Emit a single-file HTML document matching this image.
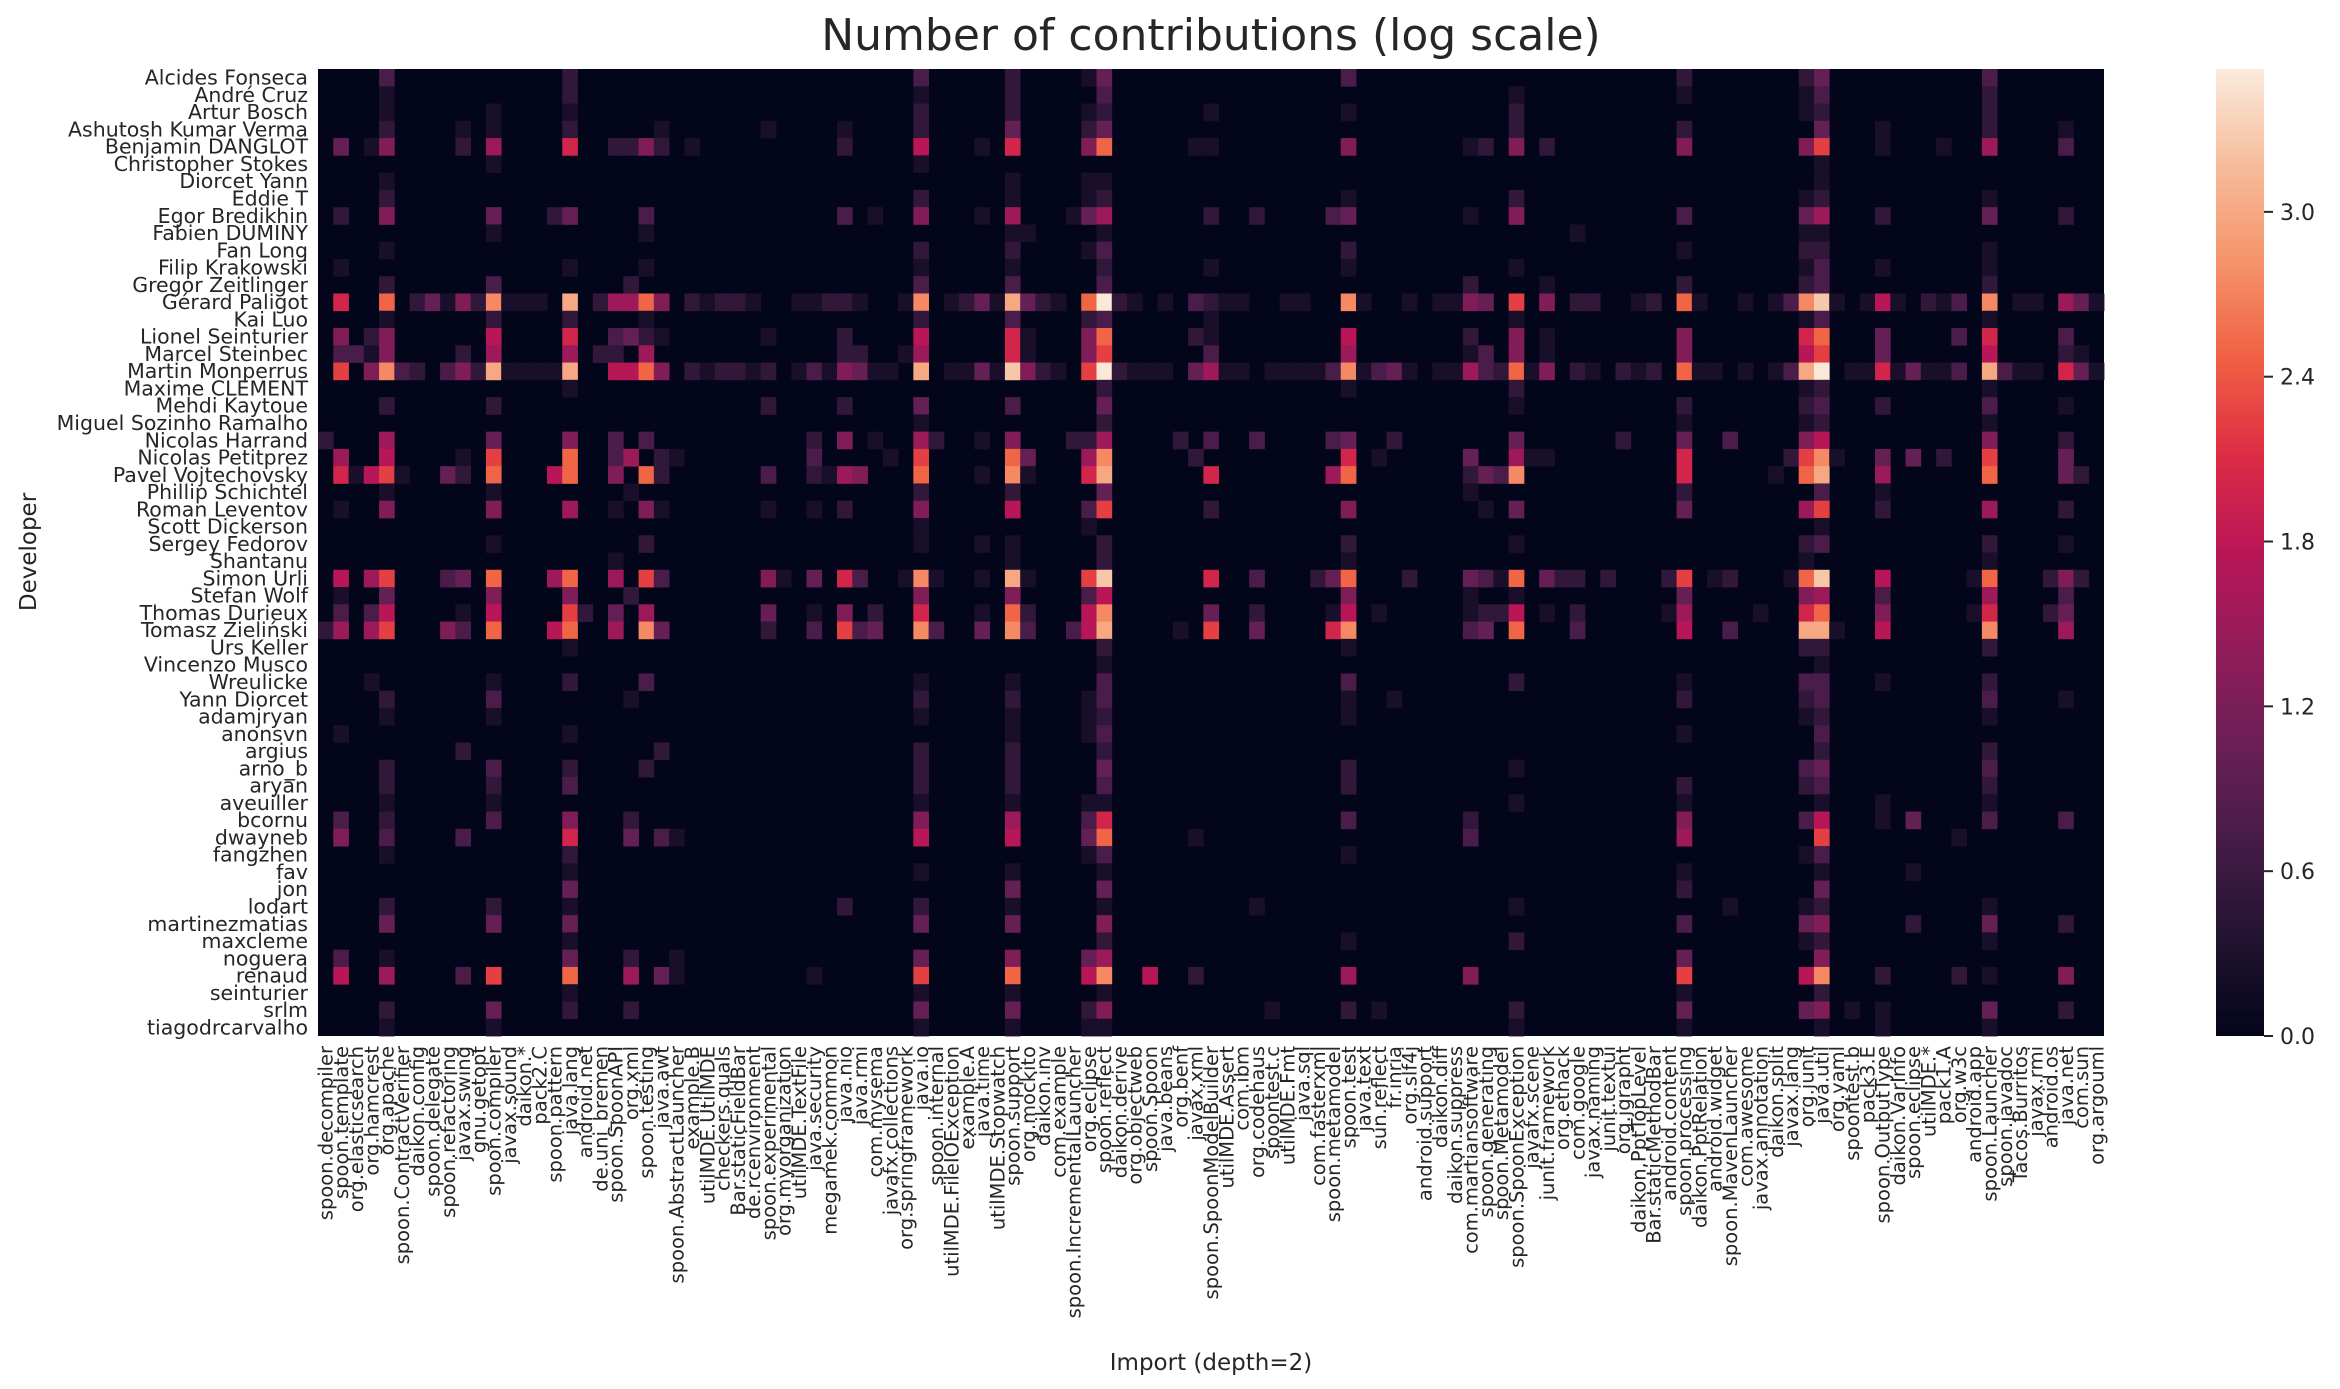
<!DOCTYPE html>
<html><head><meta charset="utf-8">
<style>
html,body{margin:0;padding:0;background:#fff;}
svg{display:block;font-family:"DejaVu Sans","Liberation Sans",sans-serif;}
</style></head>
<body>
<svg id="chart" width="2340" height="1389" viewBox="0 0 2340 1389" xmlns="http://www.w3.org/2000/svg">
<defs>
<linearGradient id="cbgrad" x1="0" y1="1" x2="0" y2="0">
<stop offset="0" stop-color="#03051a"/><stop offset="0.1" stop-color="#221331"/><stop offset="0.2" stop-color="#451c47"/><stop offset="0.3" stop-color="#6a1f56"/><stop offset="0.4" stop-color="#921c5b"/><stop offset="0.5" stop-color="#b91657"/><stop offset="0.6" stop-color="#dd2c45"/><stop offset="0.7" stop-color="#f06043"/><stop offset="0.8" stop-color="#f5936a"/><stop offset="0.9" stop-color="#f6bc9a"/><stop offset="1" stop-color="#faebdd"/>
</linearGradient>
</defs>
<text x="1211" y="50" text-anchor="middle" font-size="44" fill="#262626">Number of contributions (log scale)</text>
<g id="cells"></g>
<g id="ylabels"></g>
<g id="xlabels"></g>
<text transform="translate(36,552) rotate(-90)" text-anchor="middle" font-size="23" fill="#262626">Developer</text>
<text x="1211" y="1370" text-anchor="middle" font-size="23" fill="#262626">Import (depth=2)</text>
<rect x="2216" y="69" width="48" height="967" fill="url(#cbgrad)"/>
<g id="cbticks"></g>
</svg>
<script>
const developers = ["Alcides Fonseca","André Cruz","Artur Bosch","Ashutosh Kumar Verma","Benjamin DANGLOT","Christopher Stokes","Diorcet Yann","Eddie T","Egor Bredikhin","Fabien DUMINY","Fan Long","Filip Krakowski","Gregor Zeitlinger","Gérard Paligot","Kai Luo","Lionel Seinturier","Marcel Steinbec","Martin Monperrus","Maxime CLEMENT","Mehdi Kaytoue","Miguel Sozinho Ramalho","Nicolas Harrand","Nicolas Petitprez","Pavel Vojtechovsky","Phillip Schichtel","Roman Leventov","Scott Dickerson","Sergey Fedorov","Shantanu","Simon Urli","Stefan Wolf","Thomas Durieux","Tomasz Zieliński","Urs Keller","Vincenzo Musco","Wreulicke","Yann Diorcet","adamjryan","anonsvn","argius","arno_b","aryan","aveuiller","bcornu","dwayneb","fangzhen","fav","jon","lodart","martinezmatias","maxcleme","noguera","renaud","seinturier","srlm","tiagodrcarvalho"];
const imports = ["spoon.decompiler","spoon.template","org.elasticsearch","org.hamcrest","org.apache","spoon.ContractVerifier","daikon.config","spoon.delegate","spoon.refactoring","javax.swing","gnu.getopt","spoon.compiler","javax.sound","daikon.*","pack2.C","spoon.pattern","java.lang","android.net","de.uni_bremen","spoon.SpoonAPI","org.xml","spoon.testing","java.awt","spoon.AbstractLauncher","example.B","utilMDE.UtilMDE","checkers.quals","Bar.staticFieldBar","de.rcenvironment","spoon.experimental","org.myorganization","utilMDE.TextFile","java.security","megamek.common","java.nio","java.rmi","com.mysema","javafx.collections","org.springframework","java.io","spoon.internal","utilMDE.FileIOException","example.A","java.time","utilMDE.Stopwatch","spoon.support","org.mockito","daikon.inv","com.example","spoon.IncrementalLauncher","org.eclipse","spoon.reflect","daikon.derive","org.objectweb","spoon.Spoon","java.beans","org.benf","javax.xml","spoon.SpoonModelBuilder","utilMDE.Assert","com.ibm","org.codehaus","spoontest.c","utilMDE.Fmt","java.sql","com.fasterxml","spoon.metamodel","spoon.test","java.text","sun.reflect","fr.inria","org.slf4j","android.support","daikon.diff","daikon.suppress","com.martiansoftware","spoon.generating","spoon.Metamodel","spoon.SpoonException","javafx.scene","junit.framework","org.ethack","com.google","javax.naming","junit.textui","org.jgrapht","daikon.PptTopLevel","Bar.staticMethodBar","android.content","spoon.processing","daikon.PptRelation","android.widget","spoon.MavenLauncher","com.awesome","javax.annotation","daikon.split","javax.lang","org.junit","java.util","org.yaml","spoontest.b","pack3.E","spoon.OutputType","daikon.VarInfo","spoon.eclipse","utilMDE.*","pack1.A","org.w3c","android.app","spoon.Launcher","spoon.javadoc","Tacos.Burritos","javax.rmi","android.os","java.net","com.sun","org.argouml"];
// sparse "column:level" entries per developer; value = level * levelStep (log10 contributions)
const levelStep = 0.25;
const cellLevels = [
"4:3 16:2 39:3 45:2 50:1 51:4 67:3 89:2 97:2 98:4 109:3",
"4:1 16:2 39:1 45:2 51:3 78:1 89:1 97:1 98:3 109:2",
"4:1 11:1 16:1 39:2 45:2 50:1 51:2 58:1 67:1 78:2 97:1 98:2 109:2",
"4:2 9:1 11:1 16:2 22:1 29:1 34:1 39:2 45:4 50:2 51:4 78:2 89:2 98:4 102:1 109:2 114:1",
"1:4 3:1 4:5 9:2 11:6 16:8 19:2 20:2 21:5 22:2 24:1 34:2 39:7 43:1 45:8 50:5 51:10 57:1 58:1 67:5 75:1 76:2 78:5 80:2 89:5 97:5 98:9 102:1 106:1 109:6 114:3",
"11:1 39:1 98:1",
"4:1 45:1 50:1 51:1 98:1",
"4:2 39:2 45:1 50:1 51:2 67:1 78:2 97:1 98:2 109:1",
"1:2 4:5 11:4 15:2 16:4 21:3 34:3 36:1 39:5 43:1 45:6 49:1 50:4 51:6 58:2 61:2 66:3 67:4 75:1 78:5 89:3 97:4 98:6 102:2 109:4 114:2",
"11:1 21:1 45:1 46:1 51:1 82:1 97:1 98:1",
"4:1 39:2 45:2 50:1 51:3 67:2 89:1 97:2 98:2 109:1",
"1:1 16:1 21:1 39:1 45:1 51:2 58:1 67:1 78:1 97:1 98:3 102:1 109:1",
"4:2 11:3 20:2 39:3 45:3 51:3 75:2 80:1 89:2 97:2 98:3 109:2",
"1:8 4:10 6:2 7:4 8:1 9:5 10:2 11:11 12:1 13:1 14:1 16:12 18:2 19:6 20:6 21:10 22:5 24:2 25:1 26:2 27:2 28:1 31:1 32:1 33:2 34:2 35:1 38:1 39:11 41:1 42:2 43:4 44:1 45:12 46:4 47:2 48:1 50:10 51:14 52:2 53:1 55:1 57:3 58:2 59:1 60:1 63:1 64:1 67:11 68:1 71:1 73:1 74:1 75:5 76:4 78:9 80:5 82:2 83:2 86:1 87:2 89:10 90:1 93:1 95:1 96:3 97:11 98:13 99:1 101:1 102:7 103:1 105:2 106:1 107:3 109:11 111:1 112:1 114:6 115:4 116:1",
"4:1 11:2 16:2 21:1 39:2 45:3 50:2 51:3 58:1 78:1 97:1 98:3 109:1",
"1:5 3:2 4:5 11:7 16:8 19:3 20:4 21:2 22:1 29:1 34:2 39:7 45:8 46:1 50:5 51:10 57:2 58:1 67:7 75:2 78:5 80:1 89:5 97:8 98:10 102:4 107:3 109:8 114:3",
"1:3 2:3 3:1 4:5 9:2 11:6 16:6 18:2 19:2 21:6 34:2 35:2 38:1 39:6 45:8 46:1 50:5 51:9 58:3 67:6 75:1 76:3 78:5 80:1 89:5 97:7 98:9 102:4 109:7 114:2 115:1",
"1:9 3:5 4:11 5:3 6:2 8:3 9:5 10:2 11:12 12:1 13:1 14:1 15:1 16:12 19:7 20:7 21:10 22:5 24:2 25:1 26:2 27:2 28:1 29:2 31:1 32:3 33:1 34:5 35:4 36:1 37:1 39:12 41:1 42:1 43:4 44:1 45:13 46:5 47:2 48:1 50:9 51:14 52:2 53:1 54:1 55:1 57:4 58:6 59:1 60:1 62:1 63:1 64:1 65:1 66:3 67:11 68:1 69:3 70:4 71:1 73:1 74:1 75:6 76:3 77:2 78:10 79:1 80:5 82:2 83:1 85:2 86:1 87:2 89:10 90:1 91:1 93:1 95:1 96:3 97:12 98:14 100:1 101:1 102:8 103:1 104:4 105:1 106:1 107:3 109:12 110:3 111:1 112:1 114:8 115:4 116:1",
"16:1 51:2 67:1 78:2 97:1 98:2 109:1",
"4:2 11:2 29:2 34:2 39:4 45:3 51:4 78:1 89:2 97:2 98:3 102:2 109:3 114:1",
"39:1 51:2 89:1 97:1 98:2 109:1",
"0:2 4:6 11:4 16:5 19:3 21:3 32:2 34:5 36:1 39:6 40:2 43:1 45:5 49:2 50:2 51:6 56:2 58:3 61:3 66:3 67:4 70:2 78:4 85:2 89:4 92:3 97:5 98:7 109:5 114:2",
"1:6 4:7 9:1 11:9 16:10 19:3 20:6 22:2 23:1 32:3 37:1 39:9 45:10 46:4 50:6 51:11 57:2 67:8 69:1 75:4 78:6 79:1 80:1 89:8 96:2 97:9 98:11 99:1 102:4 104:4 106:2 109:9 114:4",
"1:8 2:1 3:7 4:9 5:1 8:4 9:2 11:10 15:7 16:10 19:5 21:10 22:2 29:3 32:2 33:1 34:6 35:5 39:10 43:1 45:11 46:1 50:8 51:12 58:8 66:6 67:10 75:2 76:4 77:3 78:11 89:8 95:1 97:10 98:12 102:6 109:10 114:4 115:2",
"4:1 11:1 20:1 39:2 45:2 51:4 75:1 89:2 98:3 102:1",
"1:1 4:5 11:5 16:6 19:1 21:5 22:1 29:1 32:1 34:2 39:5 45:7 50:3 51:9 58:2 67:5 76:1 78:4 89:4 97:6 98:9 102:2 109:6 114:2",
"39:1 50:1 98:1",
"11:1 21:2 39:1 43:1 45:1 51:2 67:2 78:1 97:2 98:3 109:2 114:1",
"19:1 45:1 51:2 67:1 97:1 109:1",
"1:7 3:6 4:9 8:3 9:4 11:10 15:6 16:10 19:6 21:9 22:3 29:5 30:1 32:4 34:8 35:3 38:1 39:11 40:1 43:1 45:12 46:1 50:9 51:13 58:8 61:3 65:2 66:4 67:10 71:2 75:4 76:3 77:1 78:10 80:4 81:2 82:2 84:2 88:2 89:9 91:1 92:2 96:1 97:10 98:13 102:7 108:1 109:10 113:2 114:5 115:2",
"1:1 4:4 11:5 16:5 20:2 39:5 45:5 50:3 51:7 67:5 75:1 78:1 89:4 97:5 98:6 102:3 109:6 114:3",
"1:3 3:3 4:7 9:1 11:7 16:9 17:2 19:4 21:6 29:4 32:1 34:5 36:2 39:8 43:1 45:10 46:2 50:7 51:11 58:4 61:2 66:1 67:7 69:1 75:1 76:2 77:2 78:7 80:1 82:2 88:1 89:6 94:1 97:8 98:10 102:5 108:1 109:8 113:2 114:4",
"0:2 1:6 3:6 4:9 8:5 9:3 11:10 15:7 16:10 19:6 21:11 22:4 29:2 32:3 34:9 35:3 36:4 39:11 40:3 43:4 45:11 46:3 49:3 50:7 51:12 56:1 58:9 61:4 66:8 67:11 75:3 76:4 78:10 82:3 89:7 92:3 97:12 98:12 99:1 102:7 109:11 114:6",
"16:1 51:2 67:1 97:2 98:2 109:2",
"51:1 98:1",
"3:1 11:1 16:2 21:3 39:1 45:1 51:3 67:3 78:2 89:1 97:3 98:3 102:1 109:2",
"4:2 11:3 20:1 39:2 45:2 50:1 51:3 67:1 70:1 89:2 97:2 98:3 109:3 114:1",
"4:1 11:1 39:1 45:1 50:1 51:2 67:1 97:1 98:2 109:1",
"1:1 16:1 45:1 50:1 51:3 89:1 98:3",
"9:2 22:2 39:2 45:2 51:2 98:2 109:2",
"4:2 11:3 16:2 21:2 39:2 45:2 51:4 67:2 78:1 97:3 98:4 109:3",
"4:2 11:2 16:3 39:2 45:2 51:3 67:2 89:2 97:2 98:3 109:2",
"4:1 11:1 39:1 45:1 50:1 51:1 78:1 89:1 98:1 102:1 109:1",
"1:3 4:2 11:3 16:5 20:2 39:5 45:6 50:3 51:8 67:3 75:2 89:5 97:3 98:7 102:1 104:4 109:3 114:3",
"1:5 4:3 9:3 16:8 20:4 22:3 23:1 39:7 45:7 50:4 51:10 57:1 75:3 89:6 98:9 107:1",
"4:1 16:2 50:1 51:3 67:1 97:1 98:3",
"16:1 39:1 45:1 51:1 89:1 98:1 104:1",
"16:4 45:4 51:4 89:2 98:4",
"4:2 11:2 16:1 34:2 39:2 45:1 51:1 61:1 78:1 92:1 97:1 98:2 109:1",
"4:4 11:4 16:4 39:4 45:4 51:5 89:3 97:4 98:5 104:2 109:4 114:2",
"16:1 51:2 67:1 78:2 97:1 98:2 109:1",
"1:3 4:1 16:4 20:2 23:1 39:4 45:5 50:4 51:6 89:4 98:5",
"1:7 4:6 9:3 11:9 16:10 20:6 22:4 23:1 32:1 39:9 45:10 50:7 51:11 54:7 57:2 67:6 75:5 89:9 97:7 98:11 102:2 107:2 109:1 114:5",
"16:1 39:1 45:1 51:1 89:1 98:2",
"4:2 11:4 16:2 20:2 39:4 45:4 50:2 51:5 62:1 67:2 69:1 78:2 89:4 97:4 98:5 100:1 102:1 109:4 114:2",
"4:1 11:1 39:1 45:1 50:1 51:1 78:1 89:1 98:1 102:1 109:1"
];
const colorbarTicks = [0.0, 0.6, 1.2, 1.8, 2.4, 3.0];
const colorMax = 3.52;

const NS = "http://www.w3.org/2000/svg";
const X0 = 318, X1 = 2104, Y0 = 69, Y1 = 1036;
const cw = (X1 - X0) / imports.length, ch = (Y1 - Y0) / developers.length;
function xPos(i){ return X0 + i * cw; }
function yPos(j){ return Y0 + j * ch; }
const stops = [[0,3,5,26],[0.1,34,19,49],[0.2,69,28,71],[0.3,106,31,86],[0.4,146,28,91],[0.5,185,22,87],[0.6,221,44,69],[0.7,240,96,67],[0.8,245,147,106],[0.9,246,188,154],[1,250,235,221]];
function rocket(v){
  let t = Math.max(0, Math.min(1, v / colorMax));
  for (let k = 1; k < stops.length; k++) {
    if (t <= stops[k][0]) {
      const a = stops[k-1], b = stops[k], f = (t - a[0]) / (b[0] - a[0]);
      return "rgb(" + [1,2,3].map(q => Math.round(a[q] + (b[q]-a[q]) * f)).join(",") + ")";
    }
  }
  return "rgb(250,235,221)";
}
function cbY(v){ return Y1 - (v / colorMax) * (Y1 - Y0); }

const cells = document.getElementById("cells");
const bg = document.createElementNS(NS, "rect");
bg.setAttribute("x", X0); bg.setAttribute("y", Y0);
bg.setAttribute("width", X1 - X0); bg.setAttribute("height", Y1 - Y0);
bg.setAttribute("fill", rocket(0));


cells.appendChild(bg);
cellLevels.forEach((row, j) => {
  row.trim().split(/\s+/).forEach(e => {
    if (!e) return;
    const [c, lv] = e.split(":").map(Number);
    const v = lv * levelStep;
    if (v <= 0) return;
    const r = document.createElementNS(NS, "rect");
    r.setAttribute("x", xPos(c).toFixed(2));
    r.setAttribute("y", yPos(j).toFixed(2));
    r.setAttribute("width", (cw + 0.4).toFixed(2));
    r.setAttribute("height", (ch + 0.4).toFixed(2));
    r.setAttribute("fill", rocket(v));
    
    
    cells.appendChild(r);
  });
});

const yl = document.getElementById("ylabels");
developers.forEach((d, j) => {
  const t = document.createElementNS(NS, "text");
  t.setAttribute("x", 308);
  t.setAttribute("y", (yPos(j) + ch / 2 + 7).toFixed(1));
  t.setAttribute("text-anchor", "end");
  t.setAttribute("font-size", "20.5");
  t.setAttribute("fill", "#262626");
  t.textContent = d;
  
  
  yl.appendChild(t);
});
const xl = document.getElementById("xlabels");
imports.forEach((m, i) => {
  const t = document.createElementNS(NS, "text");
  const cx = xPos(i) + cw / 2 + 7;
  t.setAttribute("transform", "translate(" + cx.toFixed(1) + ",1046) rotate(-90)");
  t.setAttribute("text-anchor", "end");
  t.setAttribute("font-size", "19.5");
  t.setAttribute("fill", "#262626");
  t.textContent = m;
  
  
  xl.appendChild(t);
});
const cbt = document.getElementById("cbticks");
colorbarTicks.forEach(v => {
  const y = cbY(v);
  const l = document.createElementNS(NS, "line");
  l.setAttribute("x1", 2264); l.setAttribute("x2", 2273);
  l.setAttribute("y1", y); l.setAttribute("y2", y);
  l.setAttribute("stroke", "#262626"); l.setAttribute("stroke-width", "2");
  
  
  cbt.appendChild(l);
  const t = document.createElementNS(NS, "text");
  t.setAttribute("x", 2280); t.setAttribute("y", (y + 8).toFixed(1));
  t.setAttribute("font-size", "22"); t.setAttribute("fill", "#262626");
  t.textContent = v.toFixed(1);
  
  
  cbt.appendChild(t);
});
</script>
</body></html>
